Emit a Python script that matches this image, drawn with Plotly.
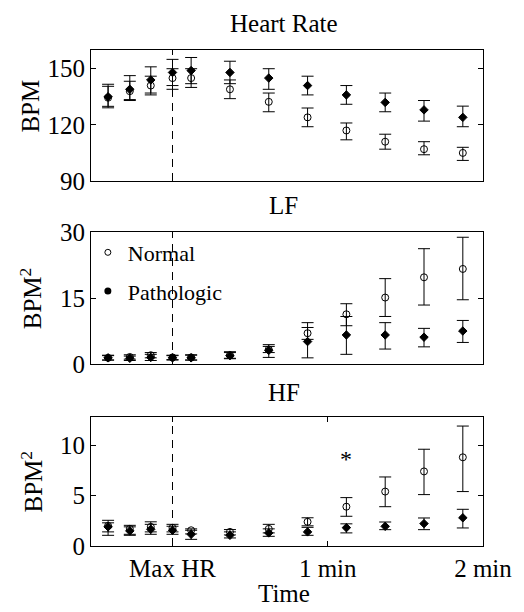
import numpy as np
import plotly.graph_objects as go

# ---------------- data ----------------
time_min = [-0.415, -0.275, -0.14, 0.0, 0.12, 0.37, 0.62, 0.87, 1.12, 1.37, 1.62, 1.87]
x_tick_vals = [0, 1, 2]
x_tick_text = ["Max HR", "1 min", "2 min"]

hr_norm_mean = [134.5, 138, 141, 145, 145, 139, 132.3, 124, 117, 111, 107, 105]
hr_norm_up = [140.6, 143.3, 146, 150, 150, 144, 137, 129, 121, 115, 111, 108]
hr_norm_lo = [129.9, 133.5, 136, 139, 140, 134, 127, 119, 112, 107, 104, 101]
hr_path_mean = [135, 139, 144, 148, 149, 148, 145, 141, 136, 132, 128, 124]
hr_path_up = [141.7, 146.3, 151, 155, 156, 154, 150, 146, 141, 137, 133, 130]
hr_path_lo = [129.1, 133, 137, 141, 142, 142, 139, 136, 131, 127, 122, 119]

lf_norm_mean = [1.4, 1.6, 2.0, 1.5, 1.5, 2.0, 3.3, 7.0, 11.3, 15.1, 19.7, 21.6]
lf_norm_up = [2.0, 2.1, 2.6, 2.0, 2.1, 2.8, 4.0, 8.3, 13.7, 19.4, 26.2, 28.8]
lf_norm_lo = [0.9, 1.1, 1.4, 1.0, 0.9, 1.3, 2.6, 5.6, 8.7, 10.8, 13.4, 14.6]
lf_path_mean = [1.4, 1.3, 1.5, 1.4, 1.4, 1.9, 3.1, 5.1, 6.6, 6.6, 6.1, 7.5]
lf_path_up = [1.9, 1.8, 2.2, 1.9, 2.0, 2.6, 4.4, 9.4, 10.8, 9.4, 8.1, 9.9]
lf_path_lo = [0.9, 0.8, 0.8, 0.9, 0.9, 1.2, 1.5, 1.4, 2.2, 3.4, 3.9, 4.9]

hf_norm_mean = [2.0, 1.7, 1.9, 1.8, 1.56, 1.4, 1.7, 2.4, 3.9, 5.4, 7.4, 8.8]
hf_norm_up = [2.55, 2.05, 2.4, 2.15, 1.7, 1.63, 2.15, 2.8, 4.8, 6.85, 9.6, 11.9]
hf_norm_lo = [1.4, 1.16, 1.4, 1.4, 1.2, 1.1, 1.3, 2.0, 2.95, 3.9, 5.1, 5.4]
hf_path_mean = [1.9, 1.5, 1.66, 1.56, 1.16, 1.06, 1.3, 1.4, 1.82, 1.95, 2.22, 2.8]
hf_path_up = [2.3, 1.9, 2.15, 1.96, 1.56, 1.4, 1.7, 1.85, 2.2, 2.38, 2.78, 3.64]
hf_path_lo = [1.06, 1.06, 1.16, 1.16, 0.66, 0.8, 0.96, 1.06, 1.3, 1.62, 1.62, 1.79]

sig_time = 1.12
sig_value = 8.4

FONT = "Liberation Serif, Times New Roman, serif"

fig = go.Figure()


def add_series(mean, up, lo, xa, ya, symbol, size):
    m = np.array(mean, dtype=float)
    plus = np.array(up, dtype=float) - m
    minus = m - np.array(lo, dtype=float)
    fig.add_trace(go.Scatter(
        x=time_min, y=mean, xaxis=xa, yaxis=ya, mode="markers", showlegend=False,
        marker=dict(symbol=symbol, size=size, color="black", line=dict(color="black", width=1)),
        error_y=dict(type="data", symmetric=False, array=plus, arrayminus=minus,
                     color="black", thickness=1, width=6),
    ))


panels = [
    ("x", "y", hr_norm_mean, hr_norm_up, hr_norm_lo, hr_path_mean, hr_path_up, hr_path_lo),
    ("x2", "y2", lf_norm_mean, lf_norm_up, lf_norm_lo, lf_path_mean, lf_path_up, lf_path_lo),
    ("x3", "y3", hf_norm_mean, hf_norm_up, hf_norm_lo, hf_path_mean, hf_path_up, hf_path_lo),
]
for xa, ya, nm, nu, nl, pm, pu, pl in panels:
    add_series(nm, nu, nl, xa, ya, "circle-open", 7)
    add_series(pm, pu, pl, xa, ya, "diamond", 6.5)

# legend entries
fig.add_trace(go.Scatter(x=[None], y=[None], xaxis="x2", yaxis="y2", mode="markers", name="Normal",
                         legendgroup="n", marker=dict(symbol="circle-open", size=6, color="black",
                                                      line=dict(color="black", width=1))))
fig.add_trace(go.Scatter(x=[None], y=[None], xaxis="x2", yaxis="y2", mode="markers", name="Pathologic",
                         legendgroup="p", marker=dict(symbol="circle", size=7, color="black")))

axis_common = dict(showline=True, linecolor="black", linewidth=1, mirror=True,
                   showgrid=False, zeroline=False, range=[-0.525, 2])
yax_common = dict(showline=True, linecolor="black", linewidth=1, mirror="ticks",
                  showgrid=False, zeroline=False, ticks="inside", ticklen=5,
                  tickcolor="black", tickfont=dict(size=25))

# the page body adds an 8px margin, so the figure is sized 8px smaller
fig.update_layout(
    width=516, height=604,
    margin=dict(l=83, r=34, t=42, b=66),
    paper_bgcolor="white", plot_bgcolor="white",
    font=dict(family=FONT, size=25, color="black"),
    xaxis=dict(**axis_common, anchor="y", domain=[0, 1], showticklabels=False, ticks=""),
    xaxis2=dict(**axis_common, anchor="y2", domain=[0, 1], showticklabels=False, ticks=""),
    xaxis3=dict(showline=True, linecolor="black", linewidth=1, mirror="ticks", showgrid=False,
                zeroline=False, range=[-0.525, 2], anchor="y3", domain=[0, 1],
                ticks="inside", ticklen=5, tickcolor="black",
                tickvals=x_tick_vals, ticktext=x_tick_text, tickfont=dict(size=25)),
    yaxis=dict(**yax_common, domain=[0.7359, 1], range=[90, 160], tickvals=[90, 120, 150]),
    yaxis2=dict(**yax_common, domain=[0.3669, 0.6331], range=[0, 30], tickvals=[0, 15, 30]),
    yaxis3=dict(**yax_common, domain=[0, 0.2601], range=[0, 12.8], tickvals=[0, 5, 10]),
    legend=dict(x=-0.008, y=0.634, xanchor="left", yanchor="top", bgcolor="rgba(0,0,0,0)",
                font=dict(size=22), traceorder="grouped", tracegroupgap=7),
    showlegend=True,
)

# dashed line at Max HR in each panel
for xr, yr in [("x", "y domain"), ("x2", "y2 domain"), ("x3", "y3 domain")]:
    fig.add_shape(type="line", xref=xr, yref=yr, x0=x_tick_vals[0], x1=x_tick_vals[0], y0=0, y1=1,
                  line=dict(color="black", width=1, dash="8px,6px"))

annots = [
    dict(text="Heart Rate", x=0.492, y=1.0534),
    dict(text="LF", x=0.492, y=0.6875),
    dict(text="HF", x=0.492, y=0.3085),
    dict(text="Time", x=0.492, y=-0.095),
    dict(text="BPM", x=-0.153, y=0.886, textangle=-90),
    dict(text="BPM<sup>2</sup>", x=-0.153, y=0.4996, textangle=-90),
    dict(text="BPM<sup>2</sup>", x=-0.153, y=0.13, textangle=-90),
]
for a in annots:
    fig.add_annotation(xref="paper", yref="paper", showarrow=False, xanchor="center", yanchor="middle",
                       font=dict(size=25), **a)

fig.add_annotation(xref="x3", yref="y3", x=sig_time, y=sig_value, text="*", showarrow=False,
                   font=dict(size=24), xanchor="center", yanchor="middle", yshift=2)

fig.write_html("out.html")
